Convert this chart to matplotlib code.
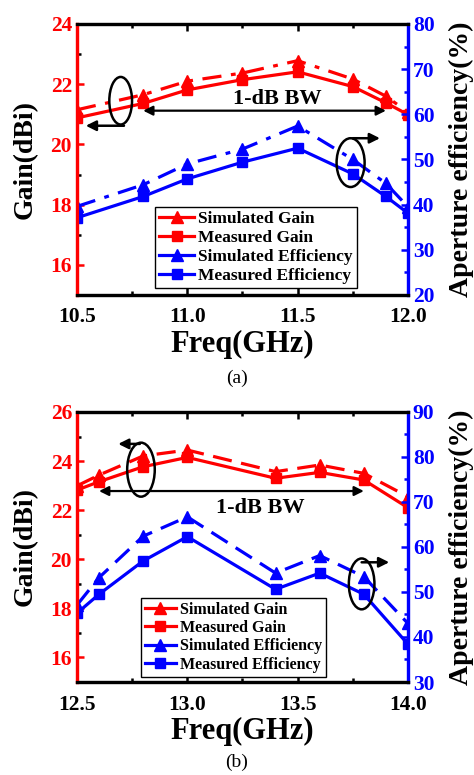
import numpy as np
import matplotlib
matplotlib.use('Agg')
import matplotlib.pyplot as plt
from matplotlib.patches import Ellipse
from matplotlib.lines import Line2D
from matplotlib.ticker import MultipleLocator

plt.rcParams['font.family'] = ['Liberation Serif', 'DejaVu Serif']
plt.rcParams['font.weight'] = 'bold'

# ---- panel (a) data ----
freq_a = [10.5, 10.8, 11.0, 11.25, 11.5, 11.75, 11.9, 12.0]
sim_gain_a = [21.15, 21.65, 22.1, 22.37, 22.78, 22.17, 21.6, 21.07]
meas_gain_a = [20.88, 21.36, 21.81, 22.15, 22.41, 21.92, 21.38, 20.99]
sim_eff_a = [39.6, 44.4, 49.0, 52.3, 57.4, 50.0, 44.7, 39.5]
meas_eff_a = [37.1, 41.8, 45.7, 49.4, 52.5, 46.8, 41.8, 38.1]

# ---- panel (b) data ----
freq_b = [12.5, 12.6, 12.8, 13.0, 13.4, 13.6, 13.8, 14.0]
sim_gain_b = [22.99, 23.43, 24.21, 24.45, 23.57, 23.84, 23.5, 22.55]
meas_gain_b = [22.82, 23.16, 23.77, 24.15, 23.3, 23.54, 23.23, 22.1]
sim_eff_b = [47.1, 53.2, 62.4, 66.7, 54.2, 58.1, 53.4, 43.0]
meas_eff_b = [45.3, 49.5, 56.9, 62.3, 50.6, 54.2, 49.5, 38.4]

labels = ['Simulated Gain', 'Measured Gain', 'Simulated Efficiency', 'Measured Efficiency']

fig = plt.figure(figsize=(4.74, 7.75), dpi=100)


def panel(rect, freq, sg, mg, se, me, sim_ls, xlim, glim, elim, gticks, eticks,
          leg_anchor, leg_fs, ell_g, ell_e, arr_g, arr_e, bw, bw_text):
    ax = fig.add_axes(rect)
    ax2 = ax.twinx()
    lw = 2.3
    ms = 8
    ax.plot(freq, sg, color='red', ls=sim_ls, lw=lw, marker='^', ms=ms + 1)
    ax.plot(freq, mg, color='red', ls='-', lw=lw, marker='s', ms=ms - 1)
    ax2.plot(freq, se, color='blue', ls=sim_ls, lw=lw, marker='^', ms=ms + 1)
    ax2.plot(freq, me, color='blue', ls='-', lw=lw, marker='s', ms=ms - 1)

    ax.set_xlim(*xlim)
    ax.set_ylim(*glim)
    ax2.set_ylim(*elim)
    ax.set_xticks(np.arange(xlim[0], xlim[1] + 0.01, 0.5))
    ax.xaxis.set_minor_locator(MultipleLocator(0.25))
    ax.set_yticks(gticks)
    ax.yaxis.set_minor_locator(MultipleLocator(1))
    ax2.set_yticks(eticks)
    ax2.yaxis.set_minor_locator(MultipleLocator(5))
    ax.set_xticklabels(['%.1f' % v for v in ax.get_xticks()])

    for a in (ax, ax2):
        for s in a.spines.values():
            s.set_linewidth(2.3)
        a.spines['left'].set_color('red')
        a.spines['right'].set_color('blue')
    ax.tick_params(axis='both', which='both', direction='in', top=True, width=1.8)
    ax.tick_params(axis='both', which='major', length=5)
    ax.tick_params(axis='both', which='minor', length=3)
    ax.tick_params(axis='x', labelsize=15.5, pad=9)
    ax.tick_params(axis='y', labelsize=15.5, colors='red')
    ax2.tick_params(axis='y', which='both', direction='in', width=1.8, labelsize=15.5, colors='blue')
    ax2.tick_params(axis='y', which='major', length=5)
    ax2.tick_params(axis='y', which='minor', length=3)

    ax.set_xlabel('Freq(GHz)', fontsize=22, fontweight='bold', labelpad=2)
    ax.set_ylabel('Gain(dBi)', fontsize=20, fontweight='bold', labelpad=9)
    ax2.set_ylabel('Aperture efficiency(%)', fontsize=20, fontweight='bold', labelpad=10)

    # ellipses and arrows
    ax.add_patch(Ellipse(ell_g[0], ell_g[1], ell_g[2], fill=False, ec='black', lw=1.8, zorder=5))
    ax2.add_patch(Ellipse(ell_e[0], ell_e[1], ell_e[2], fill=False, ec='black', lw=1.8, zorder=5))
    ax.annotate('', xy=arr_g[1], xytext=arr_g[0],
                arrowprops=dict(arrowstyle='-|>', color='black', lw=1.8, mutation_scale=15,
                                shrinkA=0, shrinkB=0))
    ax2.annotate('', xy=arr_e[1], xytext=arr_e[0],
                 arrowprops=dict(arrowstyle='-|>', color='black', lw=1.8, mutation_scale=15,
                                 shrinkA=0, shrinkB=0))
    # bandwidth arrow
    ax.annotate('', xy=(bw[1], bw[2]), xytext=(bw[0], bw[2]),
                arrowprops=dict(arrowstyle='<|-|>', color='black', lw=1.6, mutation_scale=14,
                                shrinkA=0, shrinkB=0))
    ax.text(bw_text[0], bw_text[1], '1-dB BW', fontsize=16, fontweight='bold',
            ha='center', va='center')

    handles = [
        Line2D([], [], color='red', lw=lw, marker='^', ms=ms + 1),
        Line2D([], [], color='red', lw=lw, marker='s', ms=ms - 1),
        Line2D([], [], color='blue', lw=lw, marker='^', ms=ms + 1),
        Line2D([], [], color='blue', lw=lw, marker='s', ms=ms - 1),
    ]
    leg = ax2.legend(handles, labels, loc='lower left', bbox_to_anchor=leg_anchor,
                     fontsize=leg_fs, frameon=True, fancybox=False, framealpha=1,
                     edgecolor='black', handlelength=2.0, handletextpad=0.2,
                     borderpad=0.25, labelspacing=0.15, borderaxespad=0)
    leg.get_frame().set_linewidth(1.0)
    for t in leg.get_texts():
        t.set_fontweight('bold')
    return ax, ax2


panel([0.1624, 0.6194, 0.6983, 0.3497], freq_a, sim_gain_a, meas_gain_a, sim_eff_a, meas_eff_a,
      (0, (6, 3, 1.5, 3)), (10.5, 12.0), (15, 24), (20, 80), [16, 18, 20, 22, 24],
      [20, 30, 40, 50, 60, 70, 80], (0.236, 0.026), 12.5,
      ((10.698, 21.45), 0.103, 1.58), ((11.74, 49.3), 0.127, 10.8),
      ((10.713, 20.62), (10.54, 20.62)), ((11.75, 54.7), (11.873, 54.7)),
      (10.8, 11.9, 21.12), (11.41, 21.5))

panel([0.1624, 0.12, 0.6983, 0.3484], freq_b, sim_gain_b, meas_gain_b, sim_eff_b, meas_eff_b,
      (0, (6, 3)), (12.5, 14.0), (15, 26), (30, 90), [16, 18, 20, 22, 24, 26],
      [30, 40, 50, 60, 70, 80, 90], (0.192, 0.019), 11.5,
      ((12.79, 23.65), 0.125, 2.2), ((13.79, 51.8), 0.116, 11.3),
      ((12.785, 24.7), (12.687, 24.7)), ((13.79, 56.6), (13.915, 56.6)),
      (12.6, 13.8, 22.78), (13.33, 22.1))

fig.text(0.5, 1 - 378 / 775, '(a)', fontsize=14, fontweight='normal', ha='center', va='center')
fig.text(0.5, 1 - 762 / 775, '(b)', fontsize=14, fontweight='normal', ha='center', va='center')

fig.savefig('out.png', dpi=100)
